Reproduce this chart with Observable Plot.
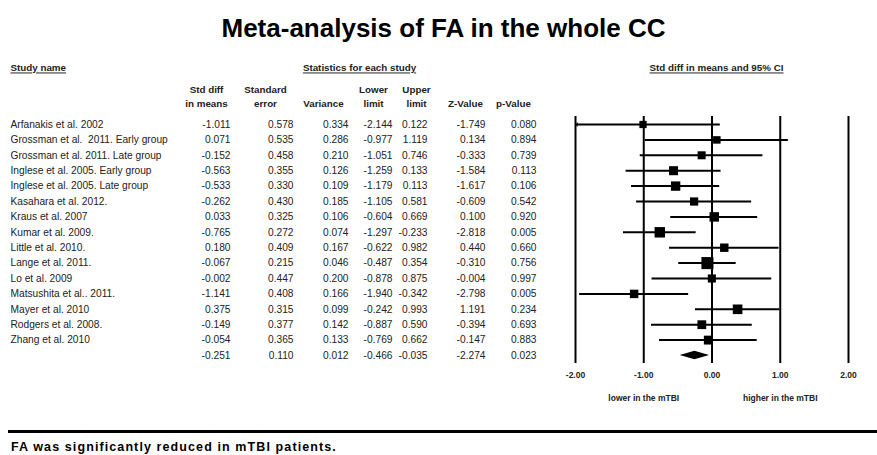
<!DOCTYPE html>
<html>
<head>
<meta charset="utf-8">
<script src="https://cdn.jsdelivr.net/npm/d3@7"></script>
<script src="https://cdn.jsdelivr.net/npm/@observablehq/plot@0.6"></script>
<style>
  body { margin: 0; background: #fff; font-family: "Liberation Sans", Arial, sans-serif; }
  #wrap { position: relative; width: 877px; height: 455px; overflow: hidden; background: #fff; }
  #wrap svg { position: absolute; left: 0; top: 0; }
  #title { position: absolute; left: 0; width: 877px; top: 15px; line-height: 26px; text-align: center; font-weight: bold; font-size: 26px; color: #000; padding-left: 10px; box-sizing: border-box; }
  #rule { position: absolute; left: 8px; right: 0; top: 430px; border-top: 3px solid #000; }
  #caption { position: absolute; left: 11px; top: 440px; font-weight: bold; font-size: 12.5px; letter-spacing: 1.1px; color: #000; }
  .ul text { text-decoration: underline; }
</style>
</head>
<body>
<div id="wrap">
  <div id="title">Meta-analysis of FA in the whole CC</div>
  <div id="rule"></div>
  <div id="caption">FA was significantly reduced in mTBI patients.</div>
</div>
<script>
// ---------- data ----------
const studyNames = [
  "Arfanakis et al. 2002",
  "Grossman et al.  2011. Early group",
  "Grossman et al. 2011. Late group",
  "Inglese et al. 2005. Early group",
  "Inglese et al. 2005. Late group",
  "Kasahara et al. 2012.",
  "Kraus et al. 2007",
  "Kumar et al. 2009.",
  "Little et al. 2010.",
  "Lange et al. 2011.",
  "Lo et al. 2009",
  "Matsushita et al.. 2011.",
  "Mayer et al. 2010",
  "Rodgers et al. 2008.",
  "Zhang et al. 2010"
];
const stdDiff    = [-1.011, 0.071, -0.152, -0.563, -0.533, -0.262, 0.033, -0.765, 0.180, -0.067, -0.002, -1.141, 0.375, -0.149, -0.054];
const stdErr     = [0.578, 0.535, 0.458, 0.355, 0.330, 0.430, 0.325, 0.272, 0.409, 0.215, 0.447, 0.408, 0.315, 0.377, 0.365];
const variance   = [0.334, 0.286, 0.210, 0.126, 0.109, 0.185, 0.106, 0.074, 0.167, 0.046, 0.200, 0.166, 0.099, 0.142, 0.133];
const lowerLimit = [-2.144, -0.977, -1.051, -1.259, -1.179, -1.105, -0.604, -1.297, -0.622, -0.487, -0.878, -1.940, -0.242, -0.887, -0.769];
const upperLimit = [0.122, 1.119, 0.746, 0.133, 0.113, 0.581, 0.669, -0.233, 0.982, 0.354, 0.875, -0.342, 0.993, 0.590, 0.662];
const zValue     = [-1.749, 0.134, -0.333, -1.584, -1.617, -0.609, 0.100, -2.818, 0.440, -0.310, -0.004, -2.798, 1.191, -0.394, -0.147];
const pValue     = [0.080, 0.894, 0.739, 0.113, 0.106, 0.542, 0.920, 0.005, 0.660, 0.756, 0.997, 0.005, 0.234, 0.693, 0.883];
// pooled (summary) row
const summaryValues = { std: -0.251, se: 0.110, var: 0.012, lower: -0.466, upper: -0.035, z: -2.274, p: 0.023 };

const xTicks = [-2, -1, 0, 1, 2];
const directionLabels = [{x: -1, label: "lower in the mTBI"}, {x: 1, label: "higher in the mTBI"}];

// ---------- table build ----------
const rows = studyNames.map((name, i) => ({
  i, name, std: stdDiff[i], se: stdErr[i], var: variance[i],
  lower: lowerLimit[i], upper: upperLimit[i], z: zValue[i], p: pValue[i],
  w: 1 / variance[i]
}));
const nRows = rows.length;
const summary = { i: nRows, name: "", ...summaryValues };
const allRows = [...rows, summary];

// table layout (right edge of values, centre of headers)
const columns = [
  {key: "std",   head: "Std diff\nin means", right: 230, center: 206},
  {key: "se",    head: "Standard\nerror",    right: 293, center: 265},
  {key: "var",   head: "Variance",           right: 348, center: 323},
  {key: "lower", head: "Lower\nlimit",       right: 392, center: 373},
  {key: "upper", head: "Upper\nlimit",       right: 427, center: 416},
  {key: "z",     head: "Z-Value",            right: 485, center: 465},
  {key: "p",     head: "p-Value",            right: 536, center: 513}
];
const fmt = v => v.toFixed(3);

const yScale = {domain: [0, nRows], range: [124, 355], axis: null};
const font = `"Liberation Sans", Arial, sans-serif`;
const bodySize = 10.2;
const headSize = 9.8;

const tableMarks = [
  Plot.text(allRows, {frameAnchor: "left", dx: 10, y: "i", text: "name", textAnchor: "start", fontSize: bodySize, fill: "#222"}),
  ...columns.map(c => Plot.text(allRows, {frameAnchor: "left", dx: c.right, y: "i", text: d => fmt(d[c.key]), textAnchor: "end", fontSize: bodySize, fill: "#222"})),
  ...columns.map(c => Plot.text([c.head], {
    frameAnchor: "top-left", dx: c.center, dy: c.head.includes("\n") ? 83 : 97,
    text: d => d, textAnchor: "middle", lineAnchor: "top", lineHeight: 1.42,
    fontSize: headSize, fontWeight: "bold", fill: "#222"
  })),
  Plot.text(["Study name"], {frameAnchor: "top-left", dx: 10, dy: 64, text: d => d, textAnchor: "start", lineAnchor: "top", fontSize: headSize, fontWeight: "bold", fill: "#222", className: "ul"}),
  Plot.text(["Statistics for each study"], {frameAnchor: "top-left", dx: 359, dy: 64, text: d => d, textAnchor: "middle", lineAnchor: "top", fontSize: headSize, fontWeight: "bold", fill: "#222", className: "ul"}),
  Plot.text(["Std diff in means and 95% CI"], {frameAnchor: "top-left", dx: 716, dy: 64, text: d => d, textAnchor: "middle", lineAnchor: "top", fontSize: headSize, fontWeight: "bold", fill: "#222", className: "ul"})
];

const table = Plot.plot({
  width: 877, height: 455, margin: 0,
  style: {fontFamily: font, background: "transparent", overflow: "visible"},
  x: {axis: null},
  y: yScale,
  marks: tableMarks
});

// ---------- forest plot ----------
const xDomain = [xTicks[0], xTicks[xTicks.length - 1]];
const maxW = d3.max(rows, d => d.w);
const diamondHalf = 0.27;
const diamond = [
  {x: summary.lower, y1: summary.i, y2: summary.i},
  {x: summary.std,   y1: summary.i - diamondHalf, y2: summary.i + diamondHalf},
  {x: summary.upper, y1: summary.i, y2: summary.i}
];

const forest = Plot.plot({
  width: 877, height: 455,
  marginLeft: 575, marginRight: 29, marginTop: 116, marginBottom: 92,
  style: {fontFamily: font, background: "transparent", overflow: "visible"},
  x: {domain: xDomain, clamp: true},
  y: yScale,
  r: {type: "sqrt", domain: [0, maxW], range: [2.5, 6.8]},
  marks: [
    Plot.ruleX(xTicks, {stroke: "#000", strokeWidth: 2}),
    Plot.ruleY(rows, {y: "i", x1: "lower", x2: "upper", stroke: "#000", strokeWidth: 2}),
    Plot.arrow(rows.filter(d => d.lower < xDomain[0]), {
      x1: () => xDomain[0] + 0.12, x2: () => xDomain[0], y1: "i", y2: "i",
      stroke: "#000", strokeWidth: 1, headLength: 7, headAngle: 70
    }),
    Plot.dot(rows, {x: "std", y: "i", r: "w", symbol: "square", fill: "#000", stroke: null}),
    Plot.areaY(diamond, {x: "x", y1: "y1", y2: "y2", fill: "#000"}),
    Plot.axisX({ticks: xTicks, tickFormat: d => d.toFixed(2), tickSize: 0, tickPadding: 8, fontSize: 8.5, fontWeight: "bold", fill: "#222", label: null}),
    Plot.text(directionLabels, {x: "x", text: "label", frameAnchor: "bottom", dy: 37, fontSize: 8.5, fontWeight: "bold", fill: "#222"})
  ]
});

const wrap = document.getElementById("wrap");
wrap.appendChild(table);
wrap.appendChild(forest);
</script>
</body>
</html>
